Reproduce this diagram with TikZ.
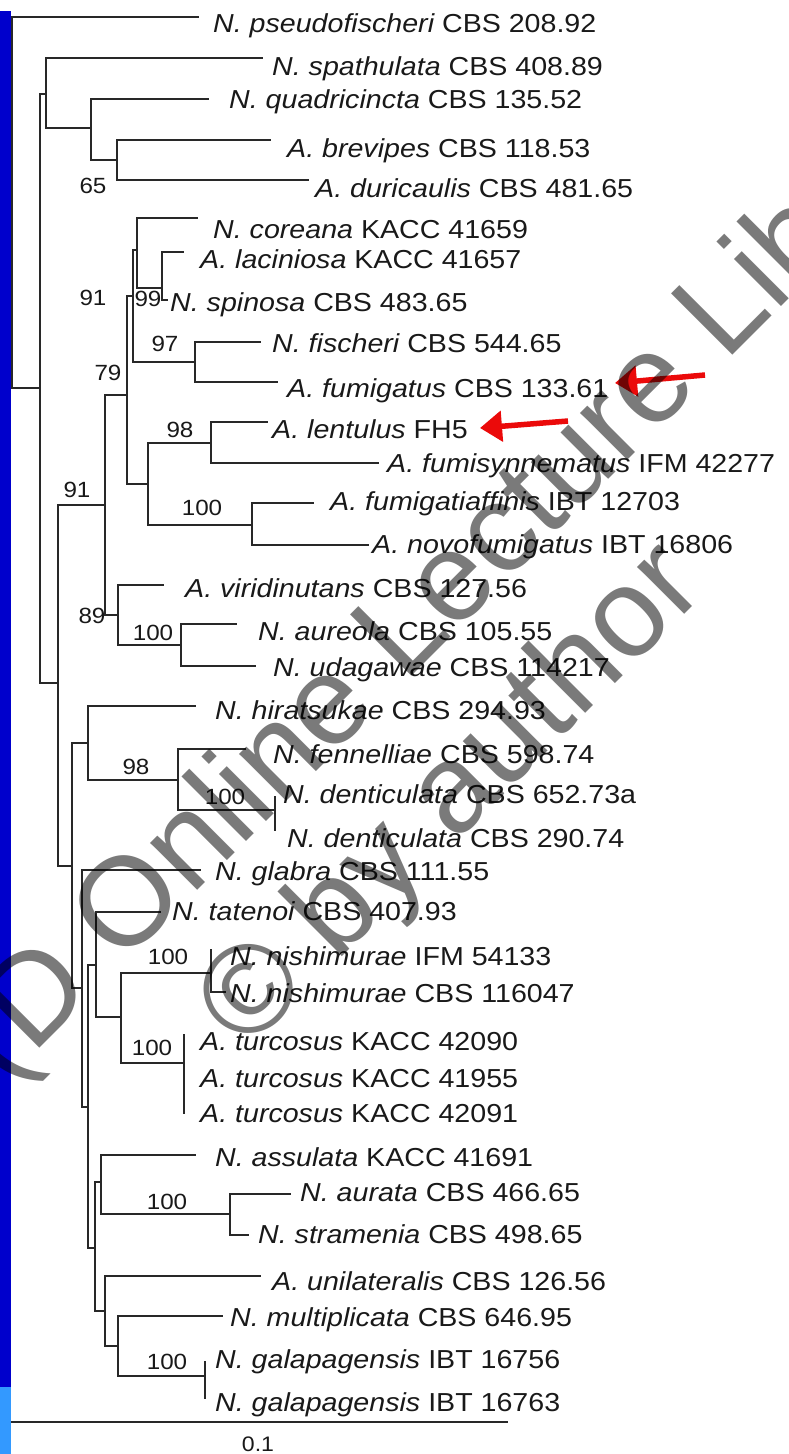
\documentclass[tikz,border=0pt]{standalone}
\usepackage{fontspec}
\setmainfont{Liberation Sans}
\newfontfamily\leaffont{Liberation Sans}[FakeStretch=1.1]
\usetikzlibrary{arrows.meta}
\definecolor{barblue}{RGB}{0,0,204}
\definecolor{lightbar}{RGB}{51,153,255}
\definecolor{treeline}{RGB}{40,40,40}
\definecolor{txtcol}{RGB}{25,25,25}
\definecolor{arrowred}{RGB}{235,10,10}
\newcommand{\leafnode}[6]{%
  \coordinate (#1-e) at (#2,#3);
  \node[leaf] (#1) at (#4,#5) {#6};}
\begin{document}
\begin{tikzpicture}[x=1pt,y=-1pt,
  branch/.style={draw=treeline,line width=2pt,line cap=rect},
  leaf/.style={anchor=base west,inner sep=0pt,text=txtcol,font=\leaffont\fontsize{26}{26}\selectfont},
  boot/.style={inner sep=0pt,text=txtcol,font=\leaffont\fontsize{22}{22}\selectfont},
  wmark/.style={anchor=base west,inner sep=0pt,rotate=45,text=black,text opacity=0.52,font=\fontsize{126}{126}\selectfont},
  redarrow/.style={draw=arrowred,line width=5.5pt,-{Triangle[length=22pt,width=30pt]}}
]
\useasboundingbox (0,0) rectangle (788,1454);
\fill[white] (0,0) rectangle (788,1454);
\fill[barblue] (0,11) rectangle (11,1387);
\fill[lightbar] (0,1387) rectangle (11,1454);

% leaves
\leafnode{pse}{198}{17}{213}{32}{\itshape N. pseudofischeri\upshape{} CBS 208.92}
\leafnode{spa}{262}{58}{272}{75}{\itshape N. spathulata\upshape{} CBS 408.89}
\leafnode{qua}{208}{99}{229}{108}{\itshape N. quadricincta\upshape{} CBS 135.52}
\leafnode{bre}{270}{140}{287}{157}{\itshape A. brevipes\upshape{} CBS 118.53}
\leafnode{dur}{308}{180}{315}{197}{\itshape A. duricaulis\upshape{} CBS 481.65}
\leafnode{cor}{197}{218}{213}{238}{\itshape N. coreana\upshape{} KACC 41659}
\leafnode{lac}{183}{252}{200}{268}{\itshape A. laciniosa\upshape{} KACC 41657}
\leafnode{spi}{167}{300}{170}{311}{\itshape N. spinosa\upshape{} CBS 483.65}
\leafnode{fis}{260}{342}{272}{352}{\itshape N. fischeri\upshape{} CBS 544.65}
\leafnode{fum}{277}{382}{287}{397}{\itshape A. fumigatus\upshape{} CBS 133.61}
\leafnode{len}{267}{422}{272}{438}{\itshape A. lentulus\upshape{} FH5}
\leafnode{fsy}{378}{463}{387}{472}{\itshape A. fumisynnematus\upshape{} IFM 42277}
\leafnode{faf}{313}{503}{330}{510}{\itshape A. fumigatiaffinis\upshape{} IBT 12703}
\leafnode{nov}{368}{545}{372}{553}{\itshape A. novofumigatus\upshape{} IBT 16806}
\leafnode{vir}{163}{585}{185}{597}{\itshape A. viridinutans\upshape{} CBS 127.56}
\leafnode{aur}{236}{624}{258}{640}{\itshape N. aureola\upshape{} CBS 105.55}
\leafnode{uda}{255}{666}{273}{676}{\itshape N. udagawae\upshape{} CBS 114217}
\leafnode{hir}{195}{706}{215}{719}{\itshape N. hiratsukae\upshape{} CBS 294.93}
\leafnode{fen}{245}{749}{273}{763}{\itshape N. fennelliae\upshape{} CBS 598.74}
\leafnode{deA}{275}{797}{283}{803}{\itshape N. denticulata\upshape{} CBS 652.73a}
\leafnode{deB}{275}{830}{287}{847}{\itshape N. denticulata\upshape{} CBS 290.74}
\leafnode{gla}{200}{870}{215}{880}{\itshape N. glabra\upshape{} CBS 111.55}
\leafnode{tat}{160}{912}{172}{920}{\itshape N. tatenoi\upshape{} CBS 407.93}
\leafnode{niA}{211}{950}{230}{965}{\itshape N. nishimurae\upshape{} IFM 54133}
\leafnode{niB}{225}{992}{230}{1002}{\itshape N. nishimurae\upshape{} CBS 116047}
\leafnode{tuA}{184}{1035}{200}{1050}{\itshape A. turcosus\upshape{} KACC 42090}
\leafnode{tuB}{184}{1077}{200}{1087}{\itshape A. turcosus\upshape{} KACC 41955}
\leafnode{tuC}{184}{1113}{200}{1122}{\itshape A. turcosus\upshape{} KACC 42091}
\leafnode{ass}{195}{1155}{215}{1166}{\itshape N. assulata\upshape{} KACC 41691}
\leafnode{ara}{290}{1194}{300}{1201}{\itshape N. aurata\upshape{} CBS 466.65}
\leafnode{str}{248}{1235}{258}{1243}{\itshape N. stramenia\upshape{} CBS 498.65}
\leafnode{uni}{260}{1276}{272}{1290}{\itshape A. unilateralis\upshape{} CBS 126.56}
\leafnode{mul}{222}{1316}{230}{1326}{\itshape N. multiplicata\upshape{} CBS 646.95}
\leafnode{gaA}{205}{1362}{215}{1368}{\itshape N. galapagensis\upshape{} IBT 16756}
\leafnode{gaB}{205}{1398}{215}{1411}{\itshape N. galapagensis\upshape{} IBT 16763}

% internal nodes
\coordinate (R) at (12,17);
\coordinate (A) at (40,388);
\coordinate (B) at (46,94);
\coordinate (C) at (91,128);
\coordinate (D) at (117,160);
\coordinate (E) at (58,683);
\coordinate (F) at (105,505);
\coordinate (G) at (127,395);
\coordinate (H) at (133,296);
\coordinate (I) at (137,250);
\coordinate (J) at (162,288);
\coordinate (K) at (195,362);
\coordinate (L) at (148,484);
\coordinate (M) at (211,443);
\coordinate (N) at (252,525);
\coordinate (O) at (118,615);
\coordinate (P) at (181,645);
\coordinate (Q) at (72,866);
\coordinate (S) at (88,743);
\coordinate (T) at (178,780);
\coordinate (U) at (275,810);
\coordinate (V) at (82,988);
\coordinate (W) at (88,1107);
\coordinate (AD) at (96,965);
\coordinate (AE) at (121,1017);
\coordinate (AF) at (211,973);
\coordinate (AG) at (184,1063);
\coordinate (X) at (95,1248);
\coordinate (Y) at (101,1182);
\coordinate (Z) at (230,1214);
\coordinate (AA) at (105,1311);
\coordinate (AB) at (118,1346);
\coordinate (AC) at (205,1376);

\path[branch]
  (R) |- (pse-e)  (R) |- (A)
  (A) |- (B)  (A) |- (E)
  (B) |- (spa-e)  (B) |- (C)
  (C) |- (qua-e)  (C) |- (D)
  (D) |- (bre-e)  (D) |- (dur-e)
  (E) |- (F)  (E) |- (Q)
  (F) |- (G)  (F) |- (O)
  (G) |- (H)  (G) |- (L)
  (H) |- (I)  (H) |- (K)
  (I) |- (cor-e)  (I) |- (J)
  (J) |- (lac-e)  (J) |- (spi-e)
  (K) |- (fis-e)  (K) |- (fum-e)
  (L) |- (M)  (L) |- (N)
  (M) |- (len-e)  (M) |- (fsy-e)
  (N) |- (faf-e)  (N) |- (nov-e)
  (O) |- (vir-e)  (O) |- (P)
  (P) |- (aur-e)  (P) |- (uda-e)
  (Q) |- (S)  (Q) |- (V)
  (S) |- (hir-e)  (S) |- (T)
  (T) |- (fen-e)  (T) |- (U)
  (U) |- (deA-e)  (U) |- (deB-e)
  (V) |- (gla-e)  (V) |- (W)
  (W) |- (AD)  (W) |- (X)
  (AD) |- (tat-e)  (AD) |- (AE)
  (AE) |- (AF)  (AE) |- (AG)
  (AF) |- (niA-e)  (AF) |- (niB-e)
  (AG) |- (tuA-e)  (AG) |- (tuB-e)  (AG) |- (tuC-e)
  (X) |- (Y)  (X) |- (AA)
  (Y) |- (ass-e)  (Y) |- (Z)
  (Z) |- (ara-e)  (Z) |- (str-e)
  (AA) |- (uni-e)  (AA) |- (AB)
  (AB) |- (mul-e)  (AB) |- (AC)
  (AC) |- (gaA-e)  (AC) |- (gaB-e);

% bootstrap values
\node[boot] (b65) at (93,186) {65};
\node[boot] (b91a) at (93,298) {91};
\node[boot] (b99) at (148,299) {99};
\node[boot] (b97) at (165,344) {97};
\node[boot] (b79) at (108,373) {79};
\node[boot] (b98a) at (180,430) {98};
\node[boot] (b91b) at (77,490) {91};
\node[boot] (b100a) at (202,508) {100};
\node[boot] (b89) at (92,616) {89};
\node[boot] (b100b) at (153,633) {100};
\node[boot] (b98b) at (136,767) {98};
\node[boot] (b100c) at (225,797) {100};
\node[boot] (b100d) at (168,957) {100};
\node[boot] (b100e) at (152,1048) {100};
\node[boot] (b100f) at (167,1202) {100};
\node[boot] (b100g) at (167,1362) {100};

% scale bar
\coordinate (sb0) at (12,1422);
\coordinate (sb1) at (507,1422);
\path[branch] (sb0) -- (sb1);
\node[boot,font=\leaffont\fontsize{21}{21}\selectfont] (sbl) at (258,1444) {0.1};

% red arrows
\coordinate (r1a) at (705,375);
\coordinate (r1b) at (615,383);
\coordinate (r2a) at (568,421);
\coordinate (r2b) at (480,428);
\draw[redarrow] (r1a) -- (r1b);
\draw[redarrow] (r2a) -- (r2b);

% watermark
\begin{scope}
\clip (0,0) rectangle (788,1454);
\node[wmark] (wm1) at (3,1085) {(D Online Lecture Lib};
\node[wmark] (wm2) at (246,1053) {© by author};
\end{scope}
\end{tikzpicture}
\end{document}
